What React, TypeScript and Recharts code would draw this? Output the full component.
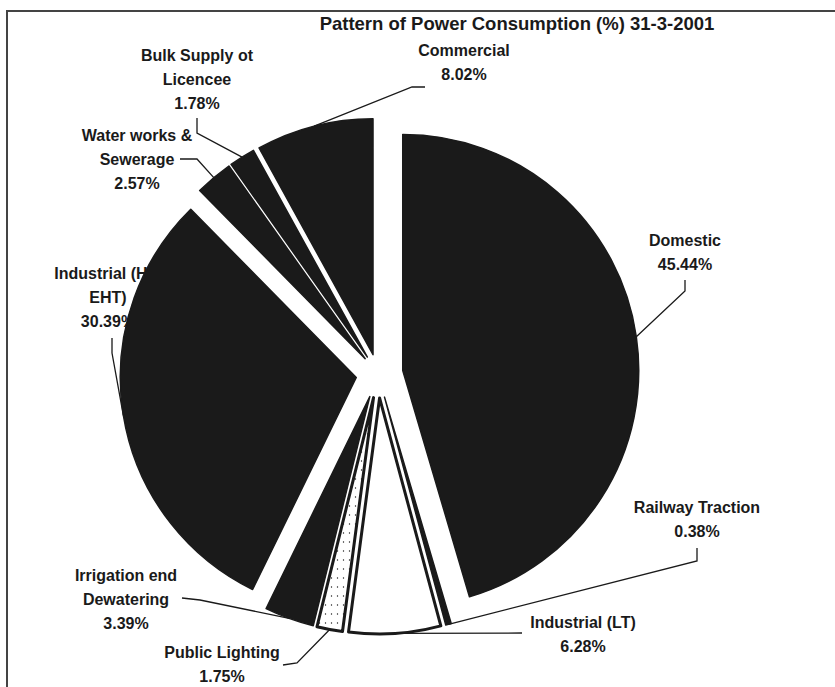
import React from 'react';
import { PieChart, Pie, Cell, Sector } from 'recharts';

// data, clockwise from 12 o'clock as in the original
const CATEGORIES = [
  'Domestic',
  'Railway Traction',
  'Industrial (LT)',
  'Public Lighting',
  'Irrigation and Dewatering',
  'Industrial (HT/ EHT)',
  'Water works & Sewerage',
  'Bulk Supply of Licencee',
  'Commercial',
];
const SHARES = [45.44, 0.38, 6.28, 1.75, 3.39, 30.39, 2.57, 1.78, 8.02];
const LABEL_LINES = [
  ['Domestic'],
  ['Railway Traction'],
  ['Industrial (LT)'],
  ['Public Lighting'],
  ['Irrigation end', 'Dewatering'],
  ['Industrial (HT/', 'EHT)'],
  ['Water works &', 'Sewerage'],
  ['Bulk Supply ot', 'Licencee'],
  ['Commercial'],
];
const TITLE = 'Pattern of Power Consumption (%) 31-3-2001';

// layout
const PIE_CX = 378;
const PIE_CY = 374;
const PIE_R = 236;
const EXPLODE = [25, 24, 24, 24, 24, 22, 20, 20, 20];
const FILLS = ['ink', 'ink', 'white', 'dots', 'ink', 'ink', 'ink', 'ink', 'ink'];
// label text centre (first line) and leader elbows, relative to pie centre
const LABEL_AT = [
  [307, -134],
  [319, 133],
  [205, 248],
  [-156, 278],
  [-252, 201],
  [-270, -101],
  [-241, -239],
  [-181, -319],
  [86, -324],
];
const LEADER = [
  [[307, -94], [307, -83]],
  [[319, 174], [319, 187]],
  [[144, 259]],
  [[-95, 291], [-81, 289]],
  [[-196, 224], [-178, 226]],
  [[-266, -36], [-266, -21]],
  [[-198, -215], [-181, -215]],
  [[-181, -256], [-181, -241]],
  [[47, -287], [34, -287]],
];
const LINE_H = 24;
const INK = '#1a1a1a';
const FONT = '"Liberation Sans", Arial, sans-serif';
const RAD = Math.PI / 180;

const data = CATEGORIES.map((name, i) => ({ name, value: SHARES[i] }));

function shift(x: number, y: number, angle: number, d: number) {
  return [x + d * Math.cos(-angle * RAD), y + d * Math.sin(-angle * RAD)];
}

function renderLabel(props: any) {
  const { cx, cy, midAngle, outerRadius, index, value } = props;
  const [ax, ay] = shift(cx, cy, midAngle, EXPLODE[index]);
  const [ex, ey] = shift(ax, ay, midAngle, outerRadius);
  const pts = LEADER[index].map(([dx, dy]) => `${cx + dx},${cy + dy}`);
  const [tx, ty] = LABEL_AT[index];
  const lines = [...LABEL_LINES[index], `${Number(value).toFixed(2)}%`];
  return (
    <g key={`lbl-${index}`}>
      <polyline
        points={[...pts, `${ex},${ey}`].join(' ')}
        fill="none"
        stroke={INK}
        strokeWidth={1.3}
      />
      {lines.map((line, k) => (
        <text
          key={k}
          x={cx + tx}
          y={cy + ty + k * LINE_H}
          dy="0.36em"
          textAnchor="middle"
          fontFamily={FONT}
          fontSize={16}
          fontWeight="bold"
          fill={INK}
        >
          {line}
        </text>
      ))}
    </g>
  );
}

function renderSlice(props: any) {
  const { cx, cy, midAngle, outerRadius, startAngle, endAngle, index } = props;
  const [ax, ay] = shift(cx, cy, midAngle, EXPLODE[index]);
  const kind = FILLS[index];
  const fill = kind === 'ink' ? INK : kind === 'dots' ? 'url(#pl-dots)' : '#fff';
  return (
    <g key={`slice-${index}`}>
      {kind === 'dots' && (
        <defs>
          <pattern id="pl-dots" width="6" height="9" patternUnits="userSpaceOnUse">
            <rect width="6" height="9" fill="#fff" />
            <circle cx="1.5" cy="2" r="0.7" fill={INK} />
          </pattern>
        </defs>
      )}
      <Sector
        cx={ax}
        cy={ay}
        innerRadius={0}
        outerRadius={outerRadius}
        startAngle={startAngle}
        endAngle={endAngle}
        fill={fill}
        stroke={INK}
        strokeWidth={kind === 'ink' ? 1.5 : 3}
        strokeLinejoin="round"
      />
    </g>
  );
}

export default function App() {
  return (
    <div style={{ position: 'absolute', left: 0, top: 0, width: 835, height: 687, background: '#fff' }}>
      <div
        style={{
          position: 'absolute',
          left: 6,
          top: 10,
          width: 829,
          height: 677,
          borderTop: '2px solid #444',
          borderLeft: '2px solid #444',
        }}
      />
      <div style={{ position: 'absolute', left: 0, top: 0 }}>
        <PieChart width={835} height={687} margin={{ top: 0, right: 0, bottom: 0, left: 0 }}>
          <text
            x={517}
            y={23}
            dy="0.36em"
            textAnchor="middle"
            fontFamily={FONT}
            fontSize={18.5}
            fontWeight="bold"
            fill={INK}
          >
            {TITLE}
          </text>
          {/* labels and leaders, underneath the slices */}
          <Pie
            data={data}
            dataKey="value"
            nameKey="name"
            cx={PIE_CX}
            cy={PIE_CY}
            outerRadius={PIE_R}
            startAngle={90}
            endAngle={-270}
            stroke="none"
            label={renderLabel}
            labelLine={false}
            isAnimationActive={false}
          >
            {data.map((d) => (
              <Cell key={d.name} fill="none" />
            ))}
          </Pie>
          {/* exploded slices */}
          <Pie
            data={data}
            dataKey="value"
            nameKey="name"
            cx={PIE_CX}
            cy={PIE_CY}
            outerRadius={PIE_R}
            startAngle={90}
            endAngle={-270}
            stroke="none"
            label={renderSlice}
            labelLine={false}
            isAnimationActive={false}
          >
            {data.map((d) => (
              <Cell key={d.name} fill="none" />
            ))}
          </Pie>
        </PieChart>
      </div>
    </div>
  );
}
